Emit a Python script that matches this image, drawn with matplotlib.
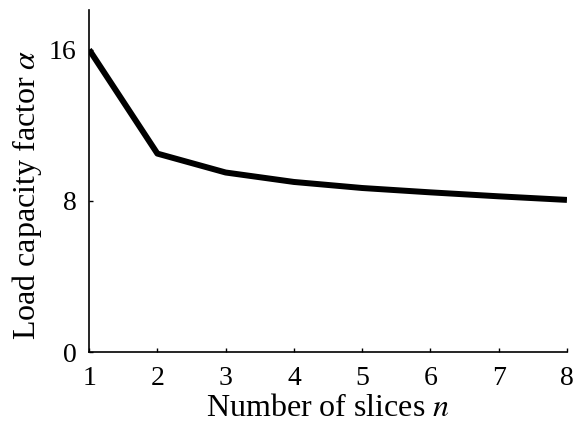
import matplotlib
matplotlib.use("Agg")
import matplotlib.pyplot as plt

# Data.
n_slices = [1, 2, 3, 4, 5, 6, 7, 8]
alpha = [16.0, 10.5, 9.5, 9.0, 8.68, 8.45, 8.24, 8.05]

plt.rcParams['font.family'] = ['Liberation Serif', 'DejaVu Serif']
plt.rcParams['mathtext.fontset'] = 'stix'

fig = plt.figure(figsize=(5.75, 4.32), dpi=100)
ax = fig.add_axes([0.155, 0.185, 0.831, 0.792])

ax.plot(n_slices, alpha, color='black', linewidth=4.3, solid_capstyle='butt')

ax.set_xlim(1, 8)
ax.set_ylim(0, 18.1)
ax.set_xticks(n_slices)
ax.set_yticks([0, 8, 16])
ax.tick_params(direction='in', length=3, width=1, labelsize=20)
ax.tick_params(axis='x', pad=10)
ax.tick_params(axis='y', pad=9)
ax.spines['top'].set_visible(False)
ax.spines['right'].set_visible(False)
ax.spines['left'].set_linewidth(1.2)
ax.spines['bottom'].set_linewidth(1.2)

ax.set_xlabel(r'Number of slices $n$', fontsize=23, labelpad=2)
ax.set_ylabel(r'Load capacity factor $\alpha$', fontsize=23)
ax.yaxis.set_label_coords(-0.095, 0.46)

fig.savefig('out.png', dpi=100)
